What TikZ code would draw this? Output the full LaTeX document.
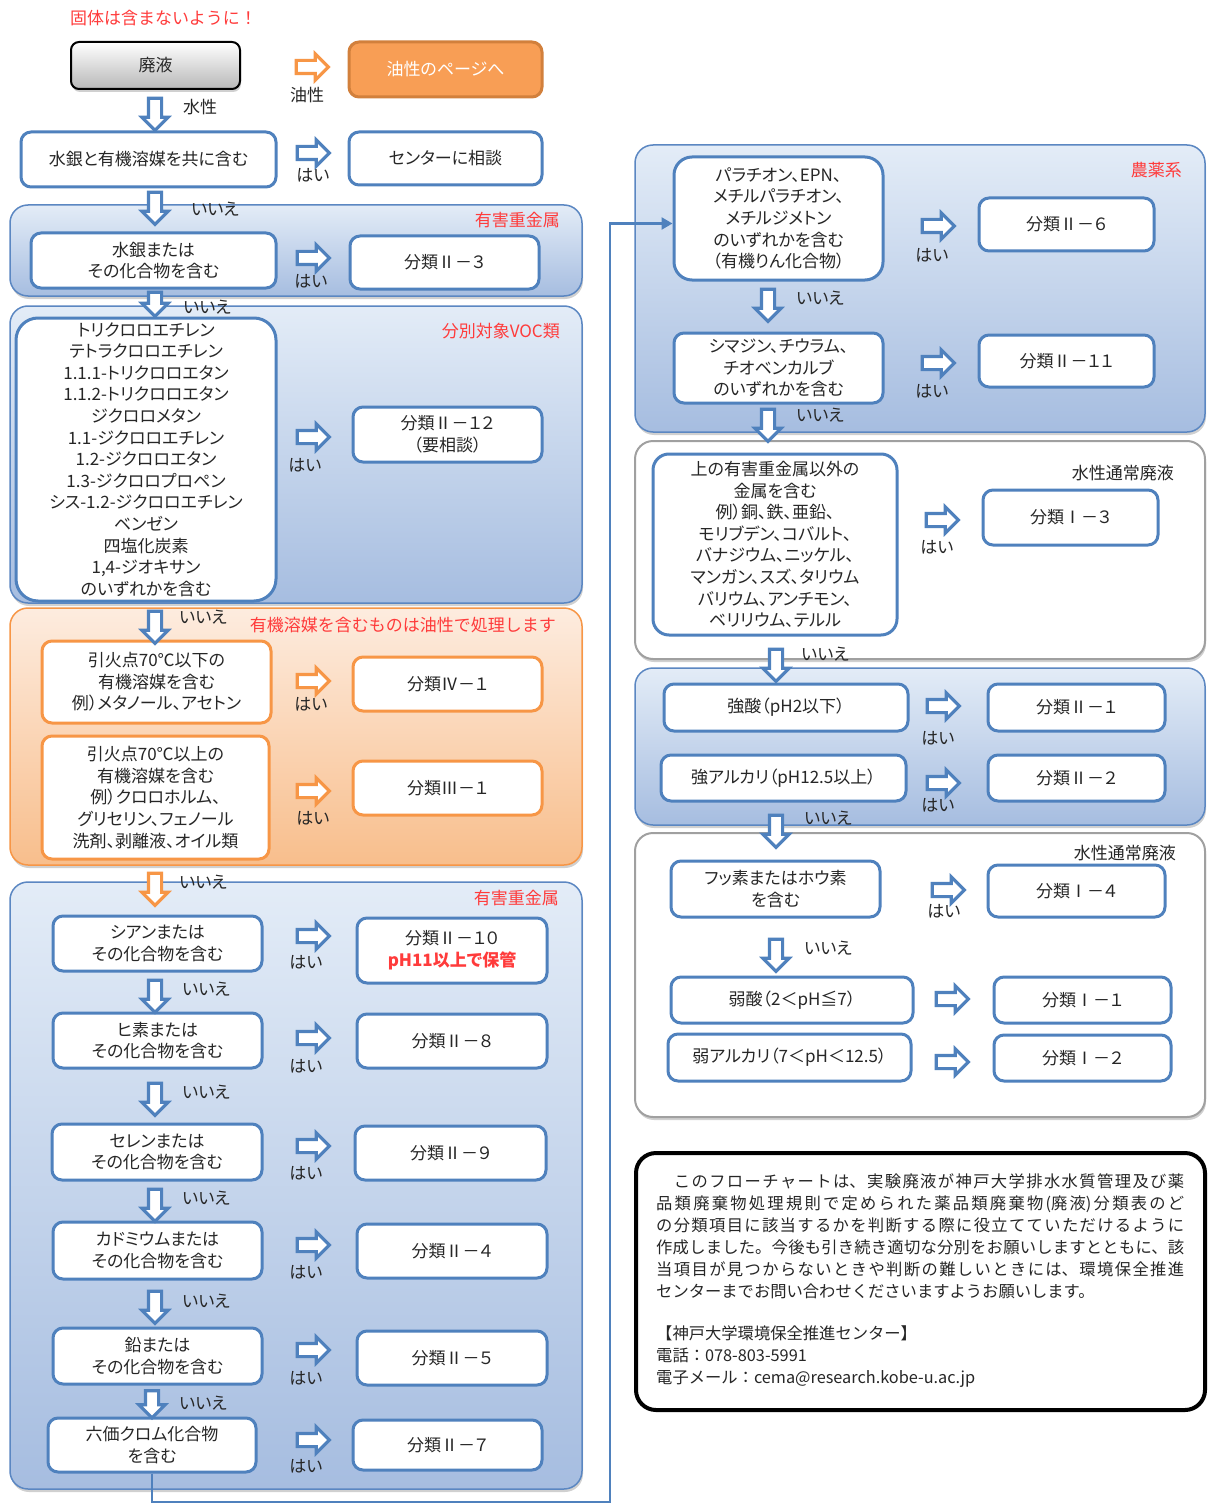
\documentclass[tikz,border=0pt]{standalone}
\usepackage{fontspec}
\setmainfont{Noto Sans CJK JP}[RawFeature=+palt]
\newfontfamily\jpn{Noto Sans CJK JP}
\usetikzlibrary{shapes.arrows,shadows,arrows.meta}
\definecolor{bl}{HTML}{4F81BD}
\definecolor{pb}{HTML}{5B87C2}
\definecolor{ptop}{HTML}{E3ECF7}
\definecolor{pbot}{HTML}{A6BDE0}
\definecolor{orr}{HTML}{F79646}
\definecolor{otop}{HTML}{FDECDF}
\definecolor{obot}{HTML}{F8BE8C}
\definecolor{rd}{HTML}{FF3B3B}
\definecolor{gb}{HTML}{A0A0A0}
\definecolor{txt}{HTML}{262626}
\newcommand\fs{\fontsize{17}{21.6}\selectfont}
\newcommand\nfs{\fontsize{16.3}{22}\selectfont}
\newcommand\bx[7]{\node[#6,minimum width={(#4-#2)*1pt},minimum height={(#5-#3)*1pt}] (#1) at ({(#2+#4)/2},{(#3+#5)/2}) {#7};}
\tikzset{
  shadowed/.style={drop shadow={shadow xshift=1pt,shadow yshift=-3pt,opacity=0.3,fill=black!60}},
  qbox/.style={draw=bl,line width=3pt,rounded corners=10pt,fill=white,align=center,inner sep=0pt,font=\fs,text=txt},
  obox/.style={qbox,draw=orr},
  bpanel/.style={draw=pb,line width=1.5pt,rounded corners=18pt,top color=ptop,bottom color=pbot,shadowed},
  wpanel/.style={draw=gb,line width=2pt,rounded corners=18pt,fill=white,shadowed},
  opanel/.style={draw=orr,line width=1.5pt,rounded corners=18pt,top color=otop,bottom color=obot,shadowed},
  lab/.style={font=\fs,text=txt,inner sep=0pt},
  redlab/.style={lab,text=rd,anchor=east},
  bar/.style={single arrow,draw=#1,fill=white,line width=3.2pt,minimum height=32pt,minimum width=0pt,inner sep=5pt,single arrow head extend=6.5pt,single arrow tip angle=90},
  bar/.default=bl,
  dbar/.style={bar=#1,shape border rotate=270},
  dbar/.default=bl,
}
\begin{document}
\begin{tikzpicture}[x=1pt,y=-1pt]
\fill[white] (0,0) rectangle (1207,1506);
\useasboundingbox (0,0) rectangle (1207,1506);

% ---------- panels ----------
\bx{PA}{10}{205}{582}{296}{bpanel}{}
\bx{PB}{10}{306}{582}{603}{bpanel}{}
\bx{PC}{10}{608}{582}{865}{opanel}{}
\bx{PD}{10}{882}{582}{1489}{bpanel}{}
\bx{PE}{635}{145}{1205}{432}{bpanel}{}
\bx{PF}{635}{441}{1205}{659}{wpanel}{}
\bx{PG}{635}{668}{1205}{825}{bpanel}{}
\bx{PH}{635}{833}{1205}{1117}{wpanel}{}

\node[redlab] (lPA) at (560,220) {有害重金属};
\node[redlab] (lPB) at (560,331) {分別対象VOC類};
\node[redlab,font=\jpn\fs] (lPC) at (556,625) {有機溶媒を含むものは油性で処理します};
\node[redlab] (lPD) at (559,898) {有害重金属};
\node[redlab] (lPE) at (1182,170) {農薬系};
\node[lab,anchor=east] (lPF) at (1174,473) {水性通常廃液};
\node[lab,anchor=east] (lPH) at (1176,853) {水性通常廃液};

% ---------- top ----------
\node[lab,text=rd,anchor=west,font=\jpn\fs] (warn) at (70,18) {固体は含まないように！};
\bx{W}{71}{42}{240}{89}{qbox,draw=black,line width=2pt,rounded corners=8pt,top color=white,bottom color=black!28,shadowed}{廃液}
\bx{OIL}{349}{42}{542}{97}{qbox,draw=orr!85!black,fill=orr!92!white,text=white}{油性のページへ}
\node[bar=orr] (AO) at (309,67) {};
\node[lab] (tO) at (307,95) {油性};
\node[dbar] (D0) at (155,111) {};
\node[lab] (t0) at (200,107) {水性};

\bx{B1}{21}{132}{276}{187}{qbox}{水銀と有機溶媒を共に含む}
\bx{C1}{349}{132}{542}{185}{qbox}{センターに相談}
\node[bar] (A1) at (310,153) {};
\node[lab] (h1) at (313,175) {はい};

\bx{B2}{31}{233}{276}{288}{qbox}{水銀または\\その化合物を含む}
\bx{C2}{350}{236}{539}{289}{qbox}{分類Ⅱ－３}
\node[bar] (A2) at (310,258) {};
\node[lab] (h2) at (311,281) {はい};

\bx{B3}{16}{318}{276}{601}{qbox,rounded corners=22pt}{トリクロロエチレン\\テトラクロロエチレン\\1.1.1-トリクロロエタン\\1.1.2-トリクロロエタン\\ジクロロメタン\\1.1-ジクロロエチレン\\1.2-ジクロロエタン\\1.3-ジクロロプロペン\\シス-1.2-ジクロロエチレン\\ベンゼン\\四塩化炭素\\1,4-ジオキサン\\のいずれかを含む}
\bx{C3}{353}{407}{542}{462}{qbox}{分類Ⅱ－１２\\（要相談）}
\node[bar] (A3) at (310,437) {};
\node[lab] (h3) at (305,465) {はい};

\bx{B4}{42}{641}{271}{723}{obox}{引火点70℃以下の\\有機溶媒を含む\\例）メタノール、アセトン}
\bx{C4}{353}{657}{542}{711}{obox}{分類Ⅳ－１}
\node[bar=orr] (A4) at (310,681) {};
\node[lab] (h4) at (311,704) {はい};

\bx{B5}{42}{736}{269}{859}{obox}{引火点70℃以上の\\有機溶媒を含む\\例）クロロホルム、\\グリセリン、フェノール\\洗剤、剥離液、オイル類}
\bx{C5}{353}{761}{542}{815}{obox}{分類Ⅲ－１}
\node[bar=orr] (A5) at (310,791) {};
\node[lab] (h5) at (313,818) {はい};

\bx{K1}{53}{916}{262}{971}{qbox}{シアンまたは\\その化合物を含む}
\bx{L1}{357}{918}{547}{983}{qbox}{分類Ⅱ－１０\\{\color{rd}\bfseries pH11以上で保管}}
\node[bar] (A6) at (310,936) {};
\node[lab] (h6) at (306,962) {はい};

\bx{K2}{53}{1013}{262}{1068}{qbox}{ヒ素または\\その化合物を含む}
\bx{L2}{357}{1014}{547}{1068}{qbox}{分類Ⅱ－８}
\node[bar] (A7) at (310,1038) {};
\node[lab] (h7) at (306,1066) {はい};

\bx{K3}{52}{1124}{262}{1180}{qbox}{セレンまたは\\その化合物を含む}
\bx{L3}{355}{1126}{546}{1180}{qbox}{分類Ⅱ－９}
\node[bar] (A8) at (310,1146) {};
\node[lab] (h8) at (306,1173) {はい};

\bx{K4}{53}{1222}{262}{1279}{qbox}{カドミウムまたは\\その化合物を含む}
\bx{L4}{357}{1224}{547}{1278}{qbox}{分類Ⅱ－４}
\node[bar] (A9) at (310,1245) {};
\node[lab] (h9) at (306,1272) {はい};

\bx{K5}{53}{1328}{262}{1384}{qbox}{鉛または\\その化合物を含む}
\bx{L5}{357}{1331}{547}{1385}{qbox}{分類Ⅱ－５}
\node[bar] (A10) at (310,1350) {};
\node[lab] (h10) at (306,1378) {はい};

\bx{K6}{48}{1418}{256}{1472}{qbox}{六価クロム化合物\\を含む}
\bx{L6}{353}{1420}{542}{1470}{qbox}{分類Ⅱ－７}
\node[bar] (A11) at (310,1440) {};
\node[lab] (h11) at (306,1466) {はい};

% left down arrows
\node[dbar] (D1) at (155,205) {};
\node[lab] (n1) at (215,209) {いいえ};
\node[dbar,minimum height=24pt] (D2) at (155,301) {};
\node[lab] (n2) at (207,307) {いいえ};
\node[dbar] (D3) at (155,624) {};
\node[lab] (n3) at (203,617) {いいえ};
\node[dbar=orr] (D4) at (155,886) {};
\node[lab] (n4) at (203,882) {いいえ};
\node[dbar] (D5) at (155,993) {};
\node[lab] (n5) at (206,989) {いいえ};
\node[dbar] (D6) at (155,1096) {};
\node[lab] (n6) at (206,1092) {いいえ};
\node[dbar] (D7) at (155,1202) {};
\node[lab] (n7) at (206,1198) {いいえ};
\node[dbar] (D8) at (155,1304) {};
\node[lab] (n8) at (206,1301) {いいえ};
\node[dbar,minimum height=27pt] (D9) at (152,1401) {};
\node[lab] (n9) at (203,1403) {いいえ};

% ---------- right column ----------
\bx{Q1}{674}{157}{883}{280}{qbox,rounded corners=18pt}{パラチオン、EPN、\\メチルパラチオン、\\メチルジメトン\\のいずれかを含む\\（有機りん化合物）}
\bx{S1}{979}{198}{1154}{251}{qbox}{分類Ⅱ－６}
\node[bar] (R1) at (935,226) {};
\node[lab] (g1) at (932,255) {はい};

\bx{Q2}{674}{333}{883}{403}{qbox}{シマジン、チウラム、\\チオベンカルブ\\のいずれかを含む}
\bx{S2}{979}{335}{1154}{387}{qbox}{分類Ⅱ－１１}
\node[bar] (R2) at (935,363) {};
\node[lab] (g2) at (932,391) {はい};

\bx{Q3}{653}{454}{897}{635}{qbox,rounded corners=16pt}{上の有害重金属以外の\\金属を含む\\例）銅、鉄、亜鉛、\\モリブデン、コバルト、\\バナジウム、ニッケル、\\マンガン、スズ、タリウム\\バリウム、アンチモン、\\ベリリウム、テルル}
\bx{S3}{983}{490}{1158}{545}{qbox}{分類Ⅰ－３}
\node[bar] (R3) at (939,520) {};
\node[lab] (g3) at (937,547) {はい};

\bx{Q4}{664}{684}{908}{731}{qbox}{強酸（pH2以下）}
\bx{S4}{988}{684}{1165}{731}{qbox}{分類Ⅱ－１}
\node[bar] (R4) at (940,706) {};
\node[lab] (g4) at (938,738) {はい};

\bx{Q5}{661}{755}{906}{801}{qbox}{強アルカリ（pH12.5以上）}
\bx{S5}{988}{755}{1165}{801}{qbox}{分類Ⅱ－２}
\node[bar] (R5) at (940,783) {};
\node[lab] (g5) at (938,805) {はい};

\bx{Q6}{671}{861}{880}{917}{qbox}{フッ素またはホウ素\\を含む}
\bx{S6}{988}{865}{1165}{917}{qbox}{分類Ⅰ－４}
\node[bar] (R6) at (945,890) {};
\node[lab] (g6) at (944,911) {はい};

\bx{Q7}{671}{977}{913}{1023}{qbox}{弱酸（2＜pH≦7）}
\bx{S7}{994}{977}{1171}{1023}{qbox}{分類Ⅰ－１}
\node[bar] (R7) at (949,999) {};

\bx{Q8}{668}{1034}{911}{1081}{qbox}{弱アルカリ（7＜pH＜12.5）}
\bx{S8}{994}{1035}{1171}{1081}{qbox}{分類Ⅰ－２}
\node[bar] (R8) at (949,1062) {};

\node[dbar] (E1) at (768,302) {};
\node[lab] (m1) at (820,298) {いいえ};
\node[dbar] (E2) at (768,422) {};
\node[lab] (m2) at (820,415) {いいえ};
\node[dbar] (E3) at (776,662) {};
\node[lab] (m3) at (825,654) {いいえ};
\node[dbar] (E4) at (776,828) {};
\node[lab] (m4) at (828,818) {いいえ};
\node[dbar] (E5) at (776,952) {};
\node[lab] (m5) at (828,948) {いいえ};

% ---------- connector ----------
\coordinate (cc) at (610,1502);
\draw[bl,line width=2.5pt,-{Triangle[length=11pt,width=12pt]}] (K6.south) |- (cc) |- ([yshift=-5pt]Q1.west);

% ---------- note ----------
\bx{NOTE}{636}{1153}{1205}{1410}{draw=black,line width=4pt,rounded corners=20pt,fill=white}{}
\node[anchor=north west,inner sep=0pt,font=\jpn\nfs,text=txt,text width=528pt,align=justify] (NT) at (656,1173) {%
\XeTeXlinebreaklocale "ja"\XeTeXlinebreakskip=0pt plus 3pt\parindent=0pt
　このフローチャートは、実験廃液が神戸大学排水水質管理及び薬\linebreak
品類廃棄物処理規則で定められた薬品類廃棄物(廃液)分類表のど\linebreak
の分類項目に該当するかを判断する際に役立てていただけるように\linebreak
作成しました。今後も引き続き適切な分別をお願いしますとともに、該\linebreak
当項目が見つからないときや判断の難しいときには、環境保全推進\linebreak
センターまでお問い合わせくださいますようお願いします。\par
\vskip 20pt
【神戸大学環境保全推進センター】\\
電話：078-803-5991\\
電子メール：cema@research.kobe-u.ac.jp\par};
\end{tikzpicture}
\end{document}
